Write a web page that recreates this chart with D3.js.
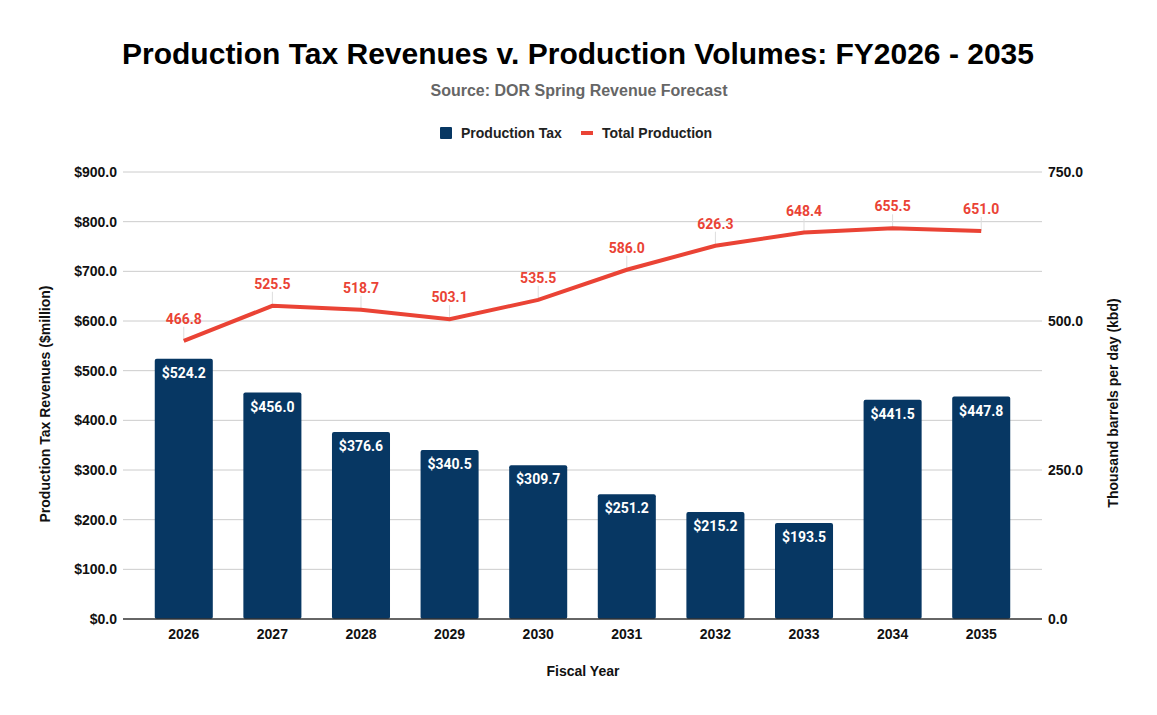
<!DOCTYPE html>
<html>
<head>
<meta charset="utf-8">
<script src="https://d3js.org/d3.v7.min.js"></script>
<style>
  body { margin: 0; background: #fff; }
  text { font-family: "Liberation Sans", Arial, sans-serif; }
  .lbl { font-family: Roboto, "Liberation Sans", sans-serif; font-weight: bold; }
</style>
</head>
<body>
<svg id="chart"></svg>
<script>
var years = ["2026", "2027", "2028", "2029", "2030", "2031", "2032", "2033", "2034", "2035"];
var taxRevenue = [524.2, 456.0, 376.6, 340.5, 309.7, 251.2, 215.2, 193.5, 441.5, 447.8];
var production = [466.8, 525.5, 518.7, 503.1, 535.5, 586.0, 626.3, 648.4, 655.5, 651.0];
var leftTicks = [0, 100, 200, 300, 400, 500, 600, 700, 800, 900];
var rightTicks = [0, 250, 500, 750];

var W = 1157, H = 715;
var plotTop = 172, plotBottom = 619, gridLeft = 123, gridRight = 1042;
var barColor = "#073763", lineColor = "#ea4335";

var svg = d3.select("#chart").attr("width", W).attr("height", H);

var x = d3.scaleBand().domain(years).range([139.7, 1025.3]).paddingInner(0.345).paddingOuter(0.17);
var yL = d3.scaleLinear().domain([0, 900]).range([plotBottom, plotTop]);
var yR = d3.scaleLinear().domain([0, 750]).range([plotBottom, plotTop]);

// title
svg.append("text").attr("x", 578).attr("y", 64).attr("text-anchor", "middle")
  .style("font-size", "30px").style("font-weight", "bold").attr("fill", "#000")
  .text("Production Tax Revenues v. Production Volumes: FY2026 - 2035");
svg.append("text").attr("x", 579).attr("y", 96).attr("text-anchor", "middle")
  .style("font-size", "16px").style("font-weight", "bold").attr("fill", "#666")
  .text("Source: DOR Spring Revenue Forecast");

// legend
var lg = svg.append("g");
lg.append("rect").attr("x", 440).attr("y", 127).attr("width", 12).attr("height", 12).attr("rx", 1).attr("fill", barColor);
lg.append("text").attr("x", 461).attr("y", 138).style("font-size", "14px").style("font-weight", "bold").attr("fill", "#222").text("Production Tax");
lg.append("rect").attr("x", 581).attr("y", 131).attr("width", 12).attr("height", 4).attr("fill", lineColor);
lg.append("text").attr("x", 602).attr("y", 138).style("font-size", "14px").style("font-weight", "bold").attr("fill", "#222").text("Total Production");

// grid
svg.append("g").selectAll("line").data(leftTicks.slice(1)).join("line")
  .attr("x1", gridLeft).attr("x2", gridRight)
  .attr("y1", function(d){ return yL(d); }).attr("y2", function(d){ return yL(d); })
  .attr("stroke", "#ccc").attr("stroke-width", 1);

// left axis labels
svg.append("g").selectAll("text").data(leftTicks).join("text")
  .attr("x", 117).attr("y", function(d){ return yL(d) + 5; })
  .attr("text-anchor", "end").style("font-size", "14px").style("font-weight", "bold").attr("fill", "#111")
  .text(function(d){ return "$" + d.toFixed(1); });

// right axis labels
svg.append("g").selectAll("text").data(rightTicks).join("text")
  .attr("x", 1048).attr("y", function(d){ return yR(d) + 5; })
  .attr("text-anchor", "start").style("font-size", "14px").style("font-weight", "bold").attr("fill", "#111")
  .text(function(d){ return d.toFixed(1); });

// bars
svg.append("g").selectAll("rect").data(taxRevenue).join("rect")
  .attr("x", function(d, i){ return x(years[i]); })
  .attr("y", function(d){ return yL(d); })
  .attr("width", x.bandwidth())
  .attr("height", function(d){ return plotBottom - yL(d); })
  .attr("rx", 2)
  .attr("fill", barColor);

svg.append("g").selectAll("text").data(taxRevenue).join("text")
  .attr("class", "lbl")
  .attr("x", function(d, i){ return x(years[i]) + x.bandwidth() / 2; })
  .attr("y", function(d){ return yL(d) + 19; })
  .attr("text-anchor", "middle").style("font-size", "14px").attr("fill", "#fff")
  .text(function(d){ return "$" + d.toFixed(1); });

// baseline
svg.append("line").attr("x1", gridLeft).attr("x2", gridRight).attr("y1", plotBottom).attr("y2", plotBottom)
  .attr("stroke", "#333").attr("stroke-width", 1.3);

// x labels
svg.append("g").selectAll("text").data(years).join("text")
  .attr("x", function(d){ return x(d) + x.bandwidth() / 2; })
  .attr("y", 639).attr("text-anchor", "middle")
  .style("font-size", "14px").style("font-weight", "bold").attr("fill", "#111")
  .text(function(d){ return d; });

// leader lines
svg.append("g").selectAll("line").data(production).join("line")
  .attr("x1", function(d, i){ return x(years[i]) + x.bandwidth() / 2; })
  .attr("x2", function(d, i){ return x(years[i]) + x.bandwidth() / 2; })
  .attr("y1", function(d){ return yR(d); })
  .attr("y2", function(d){ return yR(d) - 14; })
  .attr("stroke", "#ddd").attr("stroke-width", 1);

// line
var line = d3.line()
  .x(function(d, i){ return x(years[i]) + x.bandwidth() / 2; })
  .y(function(d){ return yR(d); });
svg.append("path").datum(production).attr("d", line)
  .attr("fill", "none").attr("stroke", lineColor).attr("stroke-width", 4);

svg.append("g").selectAll("text").data(production).join("text")
  .attr("class", "lbl")
  .attr("x", function(d, i){ return x(years[i]) + x.bandwidth() / 2; })
  .attr("y", function(d){ return yR(d) - 17; })
  .attr("text-anchor", "middle").style("font-size", "14px").attr("fill", lineColor)
  .text(function(d){ return d.toFixed(1); });

// axis titles
svg.append("text").attr("x", 583).attr("y", 676).attr("text-anchor", "middle")
  .style("font-size", "14px").style("font-weight", "bold").attr("fill", "#111").text("Fiscal Year");
svg.append("text").attr("transform", "translate(50,404) rotate(-90)").attr("text-anchor", "middle")
  .style("font-size", "14px").style("font-weight", "bold").attr("fill", "#111").text("Production Tax Revenues ($million)");
svg.append("text").attr("transform", "translate(1118,403) rotate(-90)").attr("text-anchor", "middle")
  .style("font-size", "14px").style("font-weight", "bold").attr("fill", "#111").text("Thousand barrels per day (kbd)");
</script>
</body>
</html>
